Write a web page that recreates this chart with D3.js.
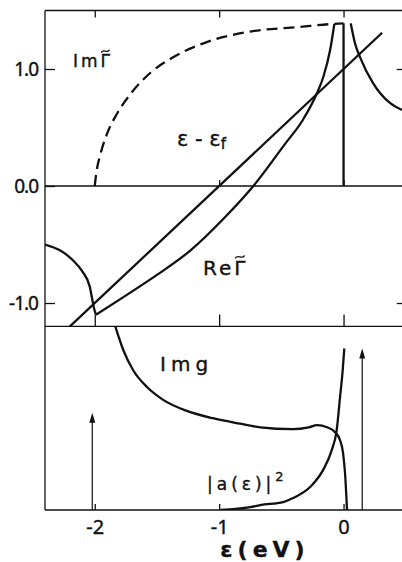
<!DOCTYPE html>
<html>
<head>
<meta charset="utf-8">
<script src="https://cdn.jsdelivr.net/npm/d3@7"></script>
<style>
  body { margin: 0; background: #fff; }
  svg { display: block; }
  text { font-family: "Noto Sans", "DejaVu Sans", sans-serif; fill: #111; }
  .lab { font-family: "DejaVu Sans", sans-serif; stroke: #111; stroke-width: 0.35; }
</style>
</head>
<body>
<svg id="chart" width="402" height="562"></svg>
<script>
// ---- data -------------------------------------------------------------
const energyTicks = [-2, -1, 0];
const energyTickLabels = ["-2", "-1", "0"];
const gammaTicks = [1, 0, -1];
const gammaTickLabels = ["1.0", "0.0", "-1.0"];

// Im Γ~ (dashed), then its drop to zero at the Fermi level
const imGammaEps = [-2.0, -1.99, -1.98, -1.96, -1.90, -1.82, -1.71, -1.55, -1.37, -1.10, -0.75, -0.35, -0.09, 0.0];
const imGammaVal = [0.0, 0.09, 0.16, 0.25, 0.45, 0.62, 0.79, 0.97, 1.10, 1.23, 1.32, 1.36, 1.385, 1.39];
const imGammaStepEps = [0.0, 0.0];
const imGammaStepVal = [1.39, 0.0];

// ε − ε_f (straight line)
const lineEps = [-2.22, 0.31];
const lineVal = [-1.22, 1.31];

// Re Γ~ : branch below the band edge, branch up to ε_f, branch above ε_f
const reGammaLowEps = [-2.4, -2.28, -2.18, -2.10, -2.04, -2.02, -2.005, -1.99];
const reGammaLowVal = [-0.50, -0.55, -0.63, -0.73, -0.86, -0.97, -1.05, -1.10];
const reGammaMidEps = [-1.99, -1.77, -1.50, -1.23, -0.965, -0.725, -0.47, -0.33, -0.215, -0.162, -0.108, -0.074];
const reGammaMidVal = [-1.10, -0.95, -0.76, -0.55, -0.28, 0.0, 0.36, 0.56, 0.79, 0.934, 1.162, 1.385];
const reGammaHighEps = [0.058, 0.092, 0.133, 0.237, 0.373, 0.47];
const reGammaHighVal = [1.39, 1.22, 1.10, 0.88, 0.71, 0.65];

// Im g (arbitrary units)
const imGEps = [-1.835, -1.77, -1.69, -1.58, -1.45, -1.26, -1.05, -0.83, -0.67, -0.41, -0.28, -0.213, -0.133, -0.068, -0.028, -0.004, 0.012, 0.028];
const imGVal = [1.0, 0.87, 0.76, 0.67, 0.60, 0.54, 0.50, 0.47, 0.45, 0.44, 0.45, 0.462, 0.451, 0.424, 0.38, 0.31, 0.20, 0.0];

// |a(ε)|² (arbitrary units)
const ampEps = [-0.99, -0.75, -0.67, -0.486, -0.406, -0.269, -0.165, -0.095, -0.055, -0.028, -0.007, 0.006];
const ampVal = [0.0, 0.016, 0.027, 0.043, 0.065, 0.125, 0.217, 0.326, 0.435, 0.616, 0.76, 0.88];

// delta-function weights (arrows)
const arrowEps = [-2.02, 0.15];
const arrowVal = [0.53, 0.88];

// ---- scales -----------------------------------------------------------
const svg = d3.select("#chart");
const x = d3.scaleLinear().domain([-2.4, 0.5]).range([45, 405.75]);
const yG = d3.scaleLinear().domain([-1.2, 1.5]).range([326.4, 10.5]);
const yB = d3.scaleLinear().domain([0, 1]).range([510, 326.4]);

const zip = (a, b) => a.map((d, i) => [d, b[i]]);

// clip regions
const defs = svg.append("defs");
defs.append("clipPath").attr("id", "clipG").append("rect")
  .attr("x", x(-2.4)).attr("y", yG(1.5)).attr("width", 402 - x(-2.4)).attr("height", yG(-1.2) - yG(1.5));
defs.append("clipPath").attr("id", "clipB").append("rect")
  .attr("x", x(-2.4)).attr("y", yB(1)).attr("width", 402 - x(-2.4)).attr("height", yB(0) - yB(1));

// ---- frame ------------------------------------------------------------
const frame = svg.append("g").attr("stroke", "#111").attr("stroke-width", 1.3).attr("fill", "none");
frame.append("line").attr("x1", x(-2.4)).attr("x2", x(-2.4)).attr("y1", yG(1.5)).attr("y2", yB(0));
[yG(1.5), yG(0), yG(-1.2), yB(0)].forEach(yy => {
  frame.append("line").attr("x1", x(-2.4)).attr("x2", x(0.5)).attr("y1", yy).attr("y2", yy);
});

function styleAxis(g) {
  g.select(".domain").remove();
  g.selectAll(".tick line").attr("stroke", "#111").attr("stroke-width", 1.3);
  g.selectAll(".tick text").attr("fill", "#111");
}

// top border ticks (pointing down)
svg.append("g").attr("transform", `translate(0,${yG(1.5)})`)
  .call(d3.axisTop(x).tickValues(energyTicks).tickSizeInner(-7).tickSizeOuter(0).tickFormat(""))
  .call(styleAxis);
// zero line ticks (pointing up)
svg.append("g").attr("transform", `translate(0,${yG(0)})`)
  .call(d3.axisBottom(x).tickValues(energyTicks).tickSizeInner(-6).tickSizeOuter(0).tickFormat(""))
  .call(styleAxis);
// panel separator ticks (pointing up)
svg.append("g").attr("transform", `translate(0,${yG(-1.2)})`)
  .call(d3.axisBottom(x).tickValues(energyTicks).tickSizeInner(-12).tickSizeOuter(0).tickFormat(""))
  .call(styleAxis);
// energy axis
svg.append("g").attr("transform", `translate(0,${yB(0)})`)
  .call(d3.axisBottom(x).tickValues(energyTicks).tickSizeInner(-6).tickSizeOuter(0).tickPadding(10)
    .tickFormat((d, i) => energyTickLabels[i]))
  .call(styleAxis)
  .call(g => g.selectAll(".tick text").attr("font-size", 20).attr("font-family", "'Noto Sans', sans-serif")
    .attr("stroke", "#111").attr("stroke-width", 0.4));
// left Γ axis
svg.append("g").attr("transform", `translate(${x(-2.4)},0)`)
  .call(d3.axisLeft(yG).tickValues(gammaTicks).tickSizeInner(-10).tickSizeOuter(0).tickPadding(7)
    .tickFormat((d, i) => gammaTickLabels[i]))
  .call(styleAxis)
  .call(g => g.selectAll(".tick text").attr("font-size", 19).attr("font-family", "'Noto Sans', sans-serif")
    .attr("letter-spacing", -1).attr("stroke", "#111").attr("stroke-width", 0.4));
// right Γ axis ticks
svg.append("g").attr("transform", `translate(${x(0.5)},0)`)
  .call(d3.axisRight(yG).tickValues([1, -1]).tickSizeInner(-9).tickSizeOuter(0).tickFormat(""))
  .call(styleAxis);

svg.append("text").attr("class", "lab").attr("x", 265).attr("y", 557).attr("text-anchor", "middle")
  .attr("font-size", 22).attr("font-weight", "bold").attr("letter-spacing", 5).text("ε(eV)");

// ---- curves -----------------------------------------------------------
const lineG = d3.line().x(d => x(d[0])).y(d => yG(d[1]));
const lineGS = d3.line().x(d => x(d[0])).y(d => yG(d[1])).curve(d3.curveMonotoneX);
const lineBS = d3.line().x(d => x(d[0])).y(d => yB(d[1])).curve(d3.curveMonotoneX);

const gTop = svg.append("g").attr("clip-path", "url(#clipG)")
  .attr("fill", "none").attr("stroke", "#111").attr("stroke-width", 2.3).attr("stroke-linejoin", "round");

gTop.append("path").attr("d", lineGS(zip(imGammaEps, imGammaVal))).attr("stroke-dasharray", "11,6");
gTop.append("path").attr("d", lineG(zip(imGammaStepEps, imGammaStepVal)));
gTop.append("path").attr("d", lineG(zip(lineEps, lineVal)));
gTop.append("path").attr("d", lineGS(zip(reGammaLowEps, reGammaLowVal)));
gTop.append("path").attr("d", lineGS(zip(reGammaMidEps, reGammaMidVal)));
gTop.append("path").attr("d", lineGS(zip(reGammaHighEps, reGammaHighVal)));

const gBot = svg.append("g").attr("clip-path", "url(#clipB)")
  .attr("fill", "none").attr("stroke", "#111").attr("stroke-width", 2.3).attr("stroke-linejoin", "round");
gBot.append("path").attr("d", lineBS(zip(imGEps, imGVal)));
gBot.append("path").attr("d", lineBS(zip(ampEps, ampVal)));

// arrows
const arrows = svg.append("g");
arrowEps.forEach((e, i) => {
  const ax = x(e), top = yB(arrowVal[i]);
  arrows.append("line").attr("x1", ax).attr("x2", ax).attr("y1", yB(0)).attr("y2", top + 6)
    .attr("stroke", "#111").attr("stroke-width", 1.2);
  arrows.append("path").attr("d", `M${ax},${top}L${ax - 3},${top + 10}L${ax + 3},${top + 10}Z`).attr("fill", "#111");
});

// ---- labels -----------------------------------------------------------
const lab = svg.append("g");

// label whose last character (Γ) carries a drawn tilde accent
function tildeLabel(tx, ty, size, spacing, str) {
  const t = lab.append("text").attr("class", "lab").attr("x", tx).attr("y", ty)
    .attr("font-size", size).attr("letter-spacing", spacing).text(str);
  const box = t.node().getExtentOfChar(str.length - 1);
  const w = (box.width - spacing) * 0.8;
  const cx = box.x + (box.width - spacing) / 2;
  const cy = ty - size * 0.73 - 3.5;
  const h = 1.6;
  lab.append("path")
    .attr("d", `M${cx - w / 2},${cy + h * 0.6} C${cx - w / 4},${cy - h * 1.6} ${cx + w / 4},${cy + h * 1.6} ${cx + w / 2},${cy - h * 0.6}`)
    .attr("fill", "none").attr("stroke", "#111").attr("stroke-width", 1.4).attr("stroke-linecap", "round");
}
tildeLabel(73, 67, 17, 3, "ImΓ");
tildeLabel(203, 275, 20, 3, "ReΓ");

const ef = lab.append("text").attr("class", "lab").attr("x", 177).attr("y", 146).attr("font-size", 21);
ef.append("tspan").text("ε - ε");
ef.append("tspan").attr("font-size", 15).attr("dy", 3).text("f");
lab.append("text").attr("class", "lab").attr("x", 160).attr("y", 371).attr("font-size", 20)
  .attr("letter-spacing", 5).text("Img");
const am = lab.append("text").attr("class", "lab").attr("x", 207).attr("y", 490).attr("font-size", 17)
  .attr("letter-spacing", 4);
am.append("tspan").text("|a(ε)|");
am.append("tspan").attr("font-size", 13).attr("dy", -9).text("2");
</script>
</body>
</html>
